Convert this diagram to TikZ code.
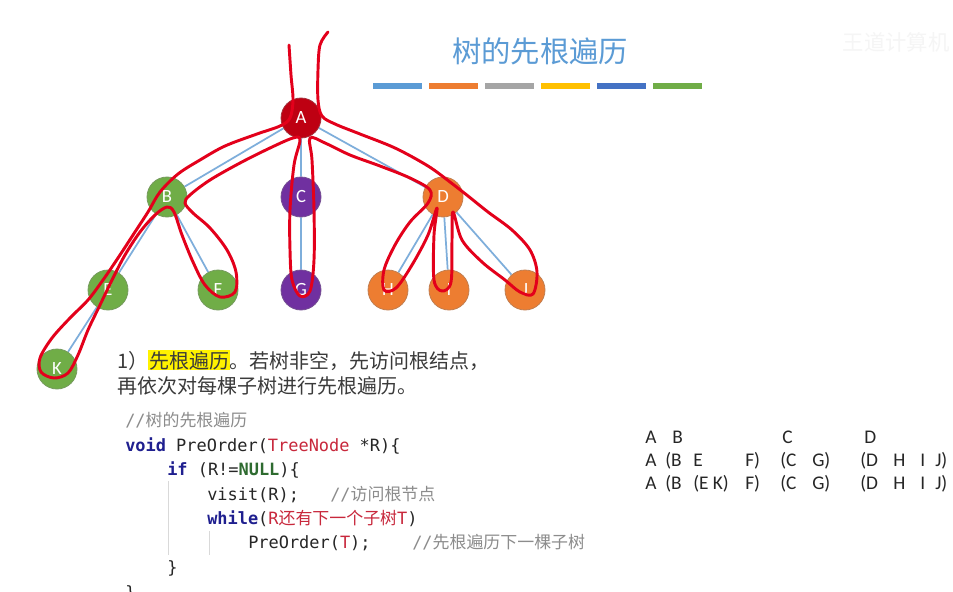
\documentclass[tikz,border=0pt]{standalone}
\usepackage{fontspec}
\setmainfont{Noto Sans CJK SC}
\newfontfamily\codefont{DejaVu Sans Mono}
\newfontfamily\cjkfont{Noto Sans CJK SC}
\newfontfamily\latinfont{Carlito}
\usepackage{xcolor}
\usepackage{tikz}
\usetikzlibrary{backgrounds}
\definecolor{titleblue}{HTML}{5B9BD5}
\definecolor{barorange}{HTML}{ED7D31}
\definecolor{bargray}{HTML}{A5A5A5}
\definecolor{baryellow}{HTML}{FFC000}
\definecolor{barblue}{HTML}{4472C4}
\definecolor{bargreen}{HTML}{70AD47}
\definecolor{rootred}{HTML}{BE0012}
\definecolor{leafpurple}{HTML}{7030A0}
\definecolor{edgeblue}{HTML}{7EAEDB}
\definecolor{tourred}{HTML}{E3001B}
\definecolor{kwblue}{HTML}{1F1F8F}
\definecolor{kwgreen}{HTML}{2E6B30}
\definecolor{strred}{HTML}{C8283C}
\definecolor{cmtgray}{HTML}{8C8C8C}
\definecolor{txtgray}{HTML}{3A3A3A}
\newcommand{\zh}[1]{{\cjkfont #1}}
\newcommand{\kw}[1]{\textcolor{kwblue}{\textbf{#1}}}
\newcommand{\cmt}[1]{\textcolor{cmtgray}{#1}}
\tikzset{
  tnode/.style={circle,minimum size=30pt,inner sep=0pt,text=white,line width=0.6pt,
    font=\latinfont\fontsize{14}{14}\selectfont},
  nred/.style={tnode,fill=rootred,draw=rootred!60!gray},
  ngreen/.style={tnode,fill=bargreen,draw=bargreen!60!gray},
  npurple/.style={tnode,fill=leafpurple,draw=leafpurple!60!gray},
  norange/.style={tnode,fill=barorange,draw=barorange!60!gray},
  tedge/.style={draw=edgeblue,line width=1.3pt},
  tour/.style={draw=tourred,line width=2.2pt,line cap=round,line join=round},
  bar/.style={line width=4pt},
  guide/.style={draw=black!15,line width=0.5pt},
  % --- text lines, anchored on their baseline ---
  body/.style={anchor=base west,inner sep=0pt,text=txtgray,font=\fontsize{15}{18}\selectfont},
  code/.style={anchor=base west,inner sep=0pt,text=black!85,font=\codefont\fontsize{12.7}{15}\selectfont},
  seq/.style={anchor=base west,inner sep=0pt,text=black!85,font=\latinfont\fontsize{14.5}{16}\selectfont},
}
\begin{document}
\begin{tikzpicture}[x=0.75pt,y=-0.75pt]
  \useasboundingbox (0,0) rectangle (953,592);
  \clip (0,0) rectangle (953,592);
  % ---- title and colour bars ----
  \node[anchor=base,text=titleblue,font=\fontsize{22}{24}\selectfont] (title) at (540,63) {树的先根遍历};
  \node[anchor=west,text=black!4,font=\fontsize{16}{18}\selectfont] (mark) at (838,42) {王道计算机};
  \foreach \c [count=\i] in {titleblue,barorange,bargray,baryellow,barblue,bargreen}
    \draw[bar,draw=\c] ({373+(\i-1)*56},86) -- ++(49,0);
  % ---- the tree ----
  \node[nred]    (A) at (301,118) {A};
  \node[ngreen]  (B) at (167,197) {B};
  \node[npurple] (C) at (301,197) {C};
  \node[norange] (D) at (443,197) {D};
  \node[ngreen]  (E) at (108,290) {E};
  \node[ngreen]  (F) at (218,290) {F};
  \node[npurple] (G) at (301,290) {G};
  \node[norange] (H) at (388,290) {H};
  \node[norange] (I) at (449,290) {I};
  \node[norange] (J) at (525,290) {J};
  \node[ngreen]  (K) at (57,369)  {K};
  \begin{scope}[on background layer]
    \fill[white] (0,0) rectangle (953,592);
    \draw[tedge] (A) -- (B) (A) -- (C) (A) -- (D) (B) -- (E) (B) -- (F)
      (E) -- (K) (C) -- (G) (D) -- (H) (D) -- (I) (D) -- (J);
  \end{scope}
  % ---- the hand-drawn walk round the tree ----
  \draw[tour] plot[smooth,tension=0.55] coordinates {
    (289,45) (291,75) (293,100) (290,118) (280,126) (257,134) (225,146) (200,160)
    (178,174) (160,192) (148,212) (133,235) (118,258) (103,280) (88,300) (70,318)
    (52,338) (40,358) (41,372) (54,378) (68,373) (78,355) (88,330) (100,305)
    (112,280) (125,255) (140,232) (155,215) (167,207) (174,212) (182,235) (193,262)
    (205,285) (220,297) (235,292) (236,272) (227,250) (210,228) (193,213) (185,203)
    (190,195) (210,180) (240,163) (270,148) (293,138) (300,140) (294,165) (290,210)
    (290,250) (292,280) (300,296) (310,291) (314,260) (314,210) (312,160) (310,138)
    (325,143) (350,155) (380,166) (410,178) (430,190) (428,203) (410,222) (395,245)
    (384,270) (384,290) (396,288) (412,265) (428,235) (437,208) (434,235) (434,280)
    (442,291) (451,282) (452,240) (453,212) (462,240) (482,262) (505,280) (520,292)
    (533,294) (537,272) (530,250) (512,230) (488,212) (468,196) (450,182) (428,166)
    (395,148) (360,134) (335,124) (322,116) (318,100) (318,70) (320,45) (328,32)};
  % ---- the rule in words ----
  \node[body] (rule1) at (117,368)
    {1）{\setlength{\fboxsep}{0.5pt}\colorbox{yellow}{先根遍历}}。若树非空，先访问根结点，};
  \node[body] (rule2) at (117,393) {再依次对每棵子树进行先根遍历。};
  % ---- the code ----
  \draw[guide] (168,481) -- (168,555);
  \draw[guide] (209,531) -- (209,555);
  \node[code] (c0) at (125,426) {\cmt{//\zh{树的先根遍历}}};
  \node[code] (c1) at (125,451) {\kw{void} PreOrder(\textcolor{strred}{TreeNode} *R)\{};
  \node[code] (c2) at (167,475) {\kw{if} (R!=\textcolor{kwgreen}{\textbf{NULL}})\{};
  \node[code] (c3) at (207,500) {visit(R);};
  \node[code] (c3c) at (330,500) {\cmt{//\zh{访问根节点}}};
  \node[code] (c4) at (207,524) {\kw{while}(\textcolor{strred}{R\zh{还有下一个子树}T})};
  \node[code] (c5) at (248,548) {PreOrder(\textcolor{strred}{T});};
  \node[code] (c5c) at (412,548) {\cmt{//\zh{先根遍历下一棵子树}}};
  \node[code] (c6) at (167,573) {\}};
  \node[code] (c7) at (125,598) {\}};
  % ---- the visiting order, step by step ----
  \foreach \x/\t in {645/A,672/B,782/C,864/D}
    \node[seq] (ra\x) at (\x,443) {\t};
  \foreach \x/\t in {645/A,665/{(B},693/E,745/{F)},780/{(C},812/{G)},860/{(D},893/H,920/I,935/{J)}}
    \node[seq] (rb\x) at (\x,466) {\t};
  \foreach \x/\t in {645/A,665/{(B},693/{(E K)},745/{F)},780/{(C},812/{G)},860/{(D},893/H,920/I,935/{J)}}
    \node[seq] (rc\x) at (\x,489) {\t};
\end{tikzpicture}
\end{document}
